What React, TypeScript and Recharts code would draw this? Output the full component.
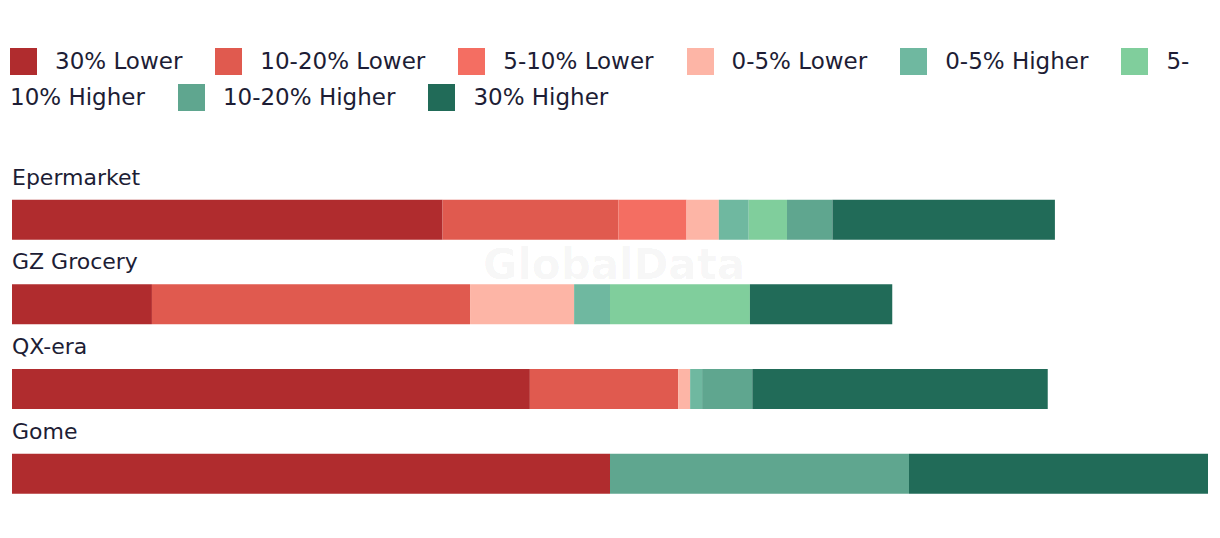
import { BarChart, Bar, XAxis, YAxis, LabelList } from "recharts";

const categories = ["Epermarket", "GZ Grocery", "QX-era", "Gome"];

const seriesNames = [
  "30% Lower",
  "10-20% Lower",
  "5-10% Lower",
  "0-5% Lower",
  "0-5% Higher",
  "5-10% Higher",
  "10-20% Higher",
  "30% Higher",
];

const seriesColors = [
  "#B02C2E",
  "#E05A4F",
  "#F46E62",
  "#FDB5A6",
  "#6FB8A0",
  "#80CE9C",
  "#5FA68F",
  "#216B58",
];

// one array per series, in the order of categories
const lower30 = [36.0, 11.7, 43.3, 50];
const lower10to20 = [14.7, 26.6, 12.4, 0];
const lower5to10 = [5.7, 0, 0, 0];
const lower0to5 = [2.7, 8.7, 1.0, 0];
const higher0to5 = [2.5, 3.0, 1.0, 0];
const higher5to10 = [3.2, 11.7, 0, 0];
const higher10to20 = [3.8, 0, 4.2, 25];
const higher30 = [18.6, 11.9, 24.7, 25];

const seriesValues = [
  lower30,
  lower10to20,
  lower5to10,
  lower0to5,
  higher0to5,
  higher5to10,
  higher10to20,
  higher30,
];

const keys = seriesNames.map((_, i) => `s${i}`);

const data = categories.map((name, c) => {
  const row: Record<string, string | number> = { name };
  seriesValues.forEach((vals, i) => {
    row[keys[i]] = vals[c];
  });
  return row;
});

const FONT = "'DejaVu Sans', sans-serif";
const TEXT = "#1d1d35";

function LegendItem({ label, color }: { label: string; color: string }) {
  // allow a break after a hyphen, keep the square with the first piece
  const m = label.match(/^(\S+?-|\S+)(.*)$/);
  const first = m ? m[1] : label;
  const rest = m ? m[2] : "";
  const restText = (first.endsWith("-") ? "\u200B" : "") + rest.replace(/-/g, "-\u200B");
  return (
    <>
      <span style={{ whiteSpace: "nowrap" }}>
        <span
          style={{
            display: "inline-block",
            width: 27,
            height: 27,
            background: color,
            verticalAlign: -6,
            marginRight: 18,
          }}
        />
        {first}
      </span>
      <span style={{ marginRight: 33 }}>{restText}</span>
    </>
  );
}

function CategoryLabel(props: any) {
  const { x, y, value } = props;
  return (
    <text x={x} y={y - 15} fontSize={22} fill={TEXT} fontFamily={FONT}>
      {value}
    </text>
  );
}

export default function App() {
  return (
    <div style={{ width: 1212, fontFamily: FONT, color: TEXT }}>
      <div
        style={{
          width: 1202,
          paddingTop: 35,
          paddingLeft: 2,
          fontSize: 23,
          lineHeight: "36px",
          height: 72,
        }}
      >
        {seriesNames.map((s, i) => (
          <LegendItem key={s} label={s} color={seriesColors[i]} />
        ))}
      </div>

      <BarChart
        width={1212}
        height={423}
        data={data}
        layout="vertical"
        margin={{ top: 62.67, right: 12, bottom: 21.67, left: 4 }}
        barSize={40}
      >
        <XAxis type="number" domain={[0, 100]} hide />
        <YAxis type="category" dataKey="name" width={0} hide />
        {keys.map((k, i) => (
          <Bar
            key={k}
            dataKey={k}
            name={seriesNames[i]}
            stackId="a"
            fill={seriesColors[i]}
            isAnimationActive={false}
          >
            {i === 0 && <LabelList dataKey="name" content={<CategoryLabel />} />}
          </Bar>
        ))}
        <text
          x={606}
          y={164}
          textAnchor="middle"
          fontSize={42}
          fontWeight="bold"
          fontFamily={FONT}
          fill="#000"
          fillOpacity={0.04}
        >
          GlobalData
        </text>
      </BarChart>
    </div>
  );
}
